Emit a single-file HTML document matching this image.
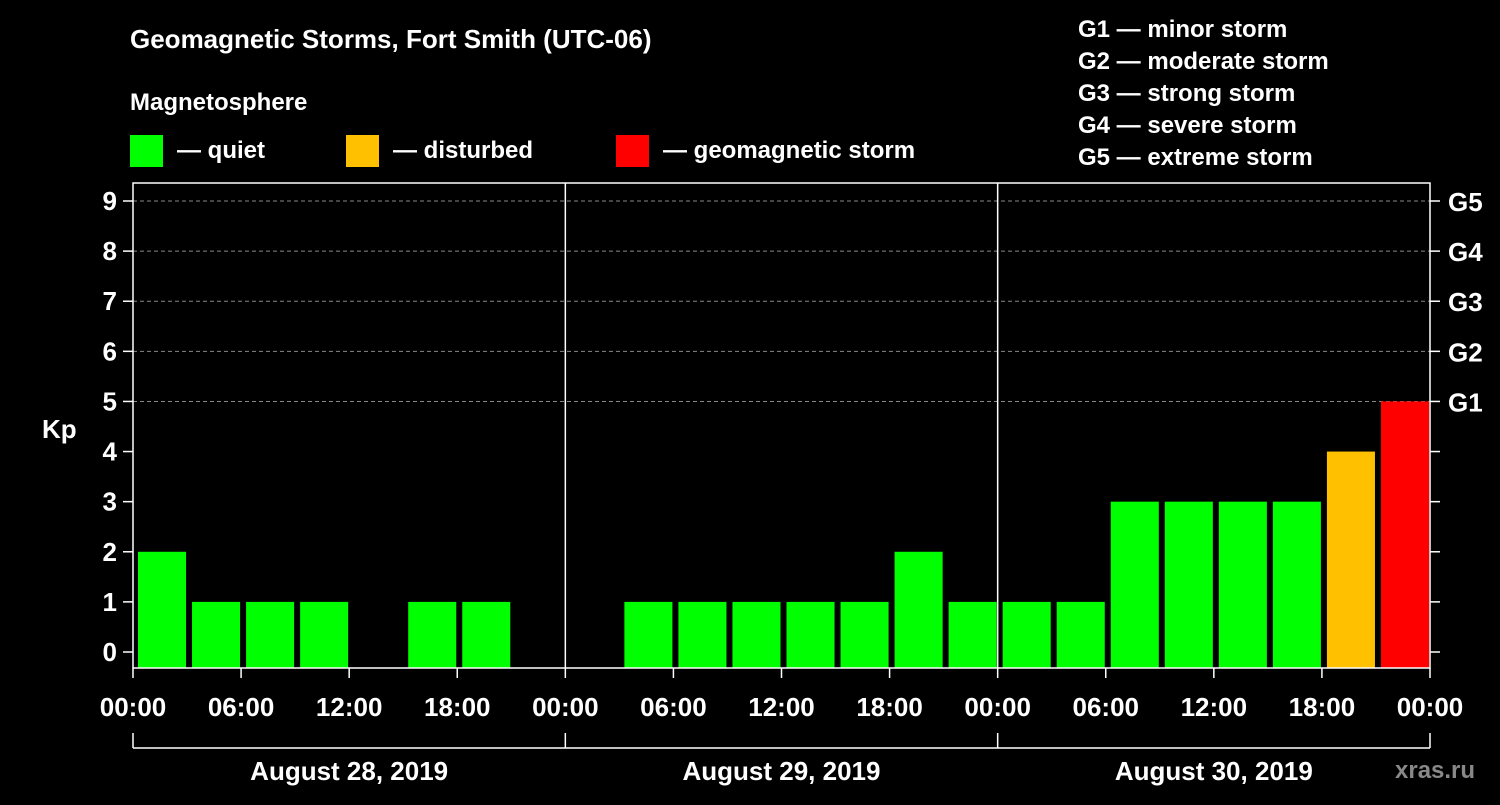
<!DOCTYPE html>
<html><head><meta charset="utf-8"><style>
body{margin:0;background:#000;}
svg text{font-family:"Liberation Sans",sans-serif;font-weight:bold;fill:#fff;}
</style></head><body>
<svg id="c" width="1500" height="800" xmlns="http://www.w3.org/2000/svg">
<rect width="1500" height="800" fill="#000"/>
<text x="130" y="48" font-size="26">Geomagnetic Storms, Fort Smith (UTC-06)</text>
<text x="130" y="110" font-size="24">Magnetosphere</text>
<rect x="130" y="135" width="33" height="32" fill="#00ff00"/>
<text x="177" y="158" font-size="24">— quiet</text>
<rect x="346" y="135" width="33" height="32" fill="#ffc000"/>
<text x="393" y="158" font-size="24">— disturbed</text>
<rect x="616" y="135" width="33" height="32" fill="#ff0000"/>
<text x="663" y="158" font-size="24">— geomagnetic storm</text>
<g font-size="24">
<text x="1078" y="37">G1 — minor storm</text>
<text x="1078" y="69">G2 — moderate storm</text>
<text x="1078" y="101">G3 — strong storm</text>
<text x="1078" y="133">G4 — severe storm</text>
<text x="1078" y="165">G5 — extreme storm</text>
</g>
<text x="42" y="438" font-size="26">Kp</text>
<text x="1395" y="778" font-size="24" fill="#888" style="fill:#888">xras.ru</text>
<g id="plot"></g>
</svg>
<script>
const dates = ["August 28, 2019","August 29, 2019","August 30, 2019"];
const kpValues = [2,1,1,1,0,1,1,0, 0,1,1,1,1,1,2,1, 1,1,3,3,3,3,4,5];
const yTicks = [0,1,2,3,4,5,6,7,8,9];
const gLabels = ["G1","G2","G3","G4","G5"];
const timeLabels = ["00:00","06:00","12:00","18:00"];

const X0=133, X1=1430, YTOP=183, YBOT=668;
const slotW=(X1-X0)/kpValues.length;
const xs = i => X0 + i*slotW;
const ys = v => 652 - v*(652-201)/9;
const NS="http://www.w3.org/2000/svg";
const g=document.getElementById('plot');
function el(t,a){const e=document.createElementNS(NS,t);for(const k in a)e.setAttribute(k,a[k]);g.appendChild(e);return e;}

yTicks.forEach(v=>{
  if(v>=5){const l=el('line',{x1:X0,x2:X1,y1:ys(v),y2:ys(v),stroke:'#888','stroke-dasharray':'4,3','stroke-width':1});
  
  }
  const t=el('line',{x1:X0-10,x2:X0,y1:ys(v),y2:ys(v),stroke:'#fff','stroke-width':1.5});
  
  
  const t2=el('line',{x1:X1,x2:X1+10,y1:ys(v),y2:ys(v),stroke:'#fff','stroke-width':1.5});
  
  
  const tx=el('text',{x:X0-16,y:ys(v)+9,'text-anchor':'end','font-size':26});
  tx.textContent=v;
  
  
});
gLabels.forEach((s,i)=>{
  const tx=el('text',{x:X1+18,y:ys(5+i)+10,'font-size':26});
  tx.textContent=s;
  
  
});
kpValues.forEach((v,i)=>{
  if(v<=0)return;
  const c=v>=5?'#ff0000':(v>=4?'#ffc000':'#00ff00');
  const b=el('rect',{x:xs(i)+5,y:ys(v),width:slotW-6,height:YBOT-ys(v),fill:c});
  
  
});
const frame=el('rect',{x:X0,y:YTOP,width:X1-X0,height:YBOT-YTOP,fill:'none',stroke:'#fff','stroke-width':1.5});


const dayW=(X1-X0)/dates.length;
for(let d=1;d<dates.length;d++){
  const l=el('line',{x1:X0+d*dayW,x2:X0+d*dayW,y1:YTOP,y2:YBOT,stroke:'#fff','stroke-width':1.5});
  
  
}
const nT=dates.length*timeLabels.length;
for(let i=0;i<=nT;i++){
  const x=X0+i*(X1-X0)/nT;
  const t=el('line',{x1:x,x2:x,y1:YBOT,y2:YBOT+10,stroke:'#fff','stroke-width':1.5});
  
  
  const tx=el('text',{x:x,y:716,'text-anchor':'middle','font-size':26});
  tx.textContent=timeLabels[i%timeLabels.length];
  
  
}
const bl=el('line',{x1:X0,x2:X1,y1:748,y2:748,stroke:'#fff','stroke-width':1.5});


for(let d=0;d<=dates.length;d++){
  const l=el('line',{x1:X0+d*dayW,x2:X0+d*dayW,y1:733,y2:748,stroke:'#fff','stroke-width':1.5});
  
  
}
dates.forEach((s,d)=>{
  const tx=el('text',{x:X0+(d+0.5)*dayW,y:780,'text-anchor':'middle','font-size':26});
  tx.textContent=s;
  
  
});
</script>
</body></html>
